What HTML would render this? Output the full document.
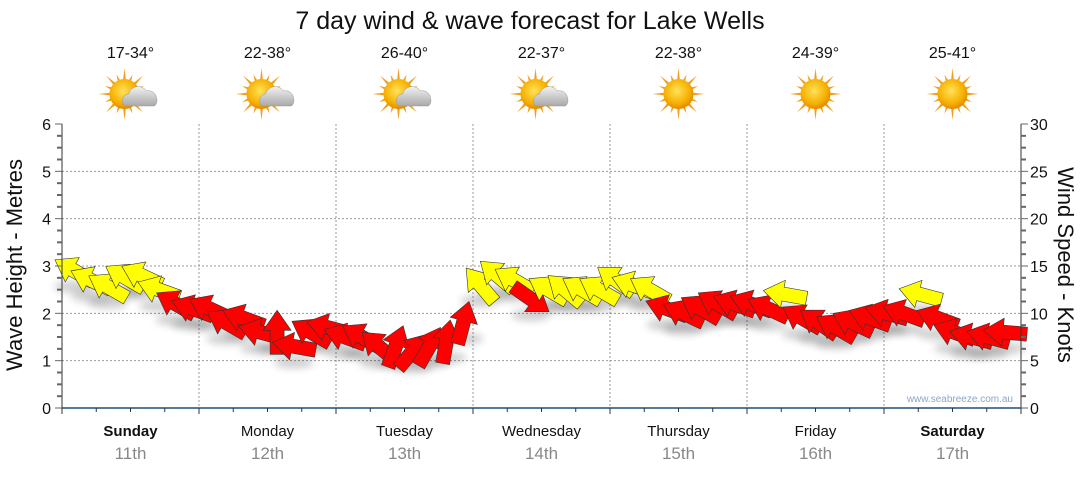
<!DOCTYPE html>
<html><head><meta charset="utf-8"><style>
body{margin:0;background:#fff;width:1080px;height:475px;overflow:hidden;font-family:"Liberation Sans",sans-serif}
</style></head><body>
<svg id="c" width="1080" height="475" viewBox="0 0 1080 475" xmlns="http://www.w3.org/2000/svg">
<defs>
<filter id="sh" x="-50%" y="-50%" width="200%" height="200%"><feGaussianBlur stdDeviation="4"/></filter>
<radialGradient id="sun" cx="0.45" cy="0.4" r="0.6"><stop offset="0" stop-color="#ffe25a"/><stop offset="0.7" stop-color="#f7b000"/><stop offset="1" stop-color="#e08a00"/></radialGradient>
<linearGradient id="cloud" x1="0" y1="0" x2="0" y2="1"><stop offset="0" stop-color="#f2f2f2"/><stop offset="1" stop-color="#a8a8a8"/></linearGradient>
</defs>
<text x="530" y="29" text-anchor="middle" font-size="25" fill="#111">7 day wind &amp; wave forecast for Lake Wells</text>
<g id="grid"></g><g id="marks"></g><g id="axes"></g><g id="head"></g>
<text x="1013" y="402" text-anchor="end" font-size="10" fill="#8aa6c6">www.seabreeze.com.au</text>
<text transform="translate(22,265) rotate(-90)" text-anchor="middle" font-size="22" fill="#111">Wave Height - Metres</text>
<text transform="translate(1058,265) rotate(90)" text-anchor="middle" font-size="22" fill="#111">Wind Speed - Knots</text>
</svg>
<script>
const days=["Sunday","Monday","Tuesday","Wednesday","Thursday","Friday","Saturday"];
const dates=["11th","12th","13th","14th","15th","16th","17th"];
const temps=["17-34°","22-38°","26-40°","22-37°","22-38°","24-39°","25-41°"];
const cloudy=[1,1,1,1,0,0,0];
const waveTicks=[0,1,2,3,4,5,6];
const windTicks=[0,5,10,15,20,25,30];
const windSpeed=[14.5,13.5,12.8,13.8,14,12.5,11,10.5, 10.5,9,9.5,8,8,6.5,8,8.5, 7.5,7.5,6.5,6.5,6,6.5,7,9, 13,14,13.5,11.5,12.5,12.5,12.5,12.5, 13.5,13,12.5,10.5,10,10.5,11,11, 11,10.5,12,9.5,9,8.5,9,9.5, 10,10,12,9.5,8,7.5,7.5,8];
const windDir=[150,155,150,150,155,160,150,160, 155,150,160,165,90,170,150,165, 160,150,140,70,50,60,80,75, 130,140,150,325,150,140,150,150, 145,160,150,160,155,150,150,160, 160,155,170,150,145,150,155,160, 165,160,165,160,160,165,165,175];
const X0=62,X1=1021,Y0=408,Y1=124;
const NS="http://www.w3.org/2000/svg";
const xs=i=>X0+12+(X1-X0-28)*i/55;
const yWave=v=>Y0-(Y0-Y1)*v/6;
const yWind=v=>Y0-(Y0-Y1)*v/30;
const dayX=d=>X0+(X1-X0)*(d+0.5)/7;
function mk(tag,attrs,parent,txt){const e=document.createElementNS(NS,tag);for(const k in attrs)e.setAttribute(k,attrs[k]);if(txt!==undefined)e.textContent=txt;parent.appendChild(e);return e;}
const grid=document.getElementById('grid'),axes=document.getElementById('axes'),marks=document.getElementById('marks'),head=document.getElementById('head');
waveTicks.forEach(v=>{if(v>0&&v<6){const l=mk('line',{x1:X0,x2:X1,y1:yWave(v),y2:yWave(v),stroke:'#999','stroke-dasharray':'2,2'},grid);

}});
for(let d=1;d<7;d++){const x=X0+(X1-X0)*d/7;const l=mk('line',{x1:x,x2:x,y1:Y1,y2:Y0,stroke:'#999','stroke-dasharray':'2,2'},grid);

}
mk('line',{x1:X0,x2:X0,y1:Y1,y2:Y0+6,stroke:'#333'},axes);
mk('line',{x1:X1,x2:X1,y1:Y1,y2:Y0,stroke:'#333'},axes);
mk('line',{x1:X0,x2:X1,y1:Y0,y2:Y0,stroke:'#1f4e79','stroke-width':1.5},axes);
for(let k=0;k<=24;k++){const y=Y0-(Y0-Y1)*k/24;mk('line',{x1:X0-(k%4?5:7),x2:X0,y1:y,y2:y,stroke:'#666','stroke-width':k%4?2:1},axes);mk('line',{x1:X1,x2:X1+(k%4?5:7),y1:y,y2:y,stroke:'#666','stroke-width':k%4?2:1},axes);}
for(let k=0;k<=28;k++){const x=X0+(X1-X0)*k/28;mk('line',{x1:x,x2:x,y1:Y0,y2:Y0+(k%4?4:6),stroke:'#333'},axes);}
waveTicks.forEach(v=>{const t=mk('text',{x:X0-11,y:yWave(v)+6,'text-anchor':'end','font-size':16,fill:'#111'},axes,v);

});
windTicks.forEach(v=>{const t=mk('text',{x:X1+9,y:yWind(v)+6,'font-size':16,fill:'#111'},axes,v);

});
days.forEach((d,i)=>{const bold=(i==0||i==6);const t=mk('text',{x:dayX(i),y:436,'text-anchor':'middle','font-size':15,'font-weight':bold?'bold':'normal',fill:'#111'},axes,d);


const t2=mk('text',{x:dayX(i),y:459,'text-anchor':'middle','font-size':17,fill:'#888'},axes,dates[i]);

});
temps.forEach((tt,i)=>{const cx=dayX(i);const t=mk('text',{x:cx,y:58,'text-anchor':'middle','font-size':16,fill:'#111'},head,tt);


const g=mk('g',{},head);


const sx=cloudy[i]?cx-6:cx,sy=94;
for(let a=0;a<16;a++){const r=a*Math.PI/8;const l=a%2?21:26;mk('polygon',{points:`${sx+Math.cos(r-0.12)*13},${sy+Math.sin(r-0.12)*13} ${sx+Math.cos(r)*l},${sy+Math.sin(r)*l} ${sx+Math.cos(r+0.12)*13},${sy+Math.sin(r+0.12)*13}`,fill:'#f0a020'},g);}
mk('circle',{cx:sx,cy:sy,r:15,fill:'url(#sun)'},g);
if(cloudy[i]){mk('path',{d:`M${cx-6} ${sy+12} a7 7 0 0 1 4 -12 a10 10 0 0 1 18 -3 a8 8 0 0 1 10 7 a7 7 0 0 1 -2 8 z`,fill:'url(#cloud)',stroke:'#999','stroke-width':0.5},g);}
});
const ARROW="-22,-7 2,-7 2,-14 22,0 2,14 2,7 -22,7";
windSpeed.forEach((v,i)=>{const x=xs(i),y=yWind(v);mk('ellipse',{cx:x,cy:y+16,rx:20,ry:6,fill:'#000',opacity:0.18,filter:'url(#sh)'},marks);});
windSpeed.forEach((v,i)=>{const x=xs(i),y=yWind(v);
const p=mk('polygon',{points:ARROW,transform:`translate(${x},${y}) rotate(${-windDir[i]})`,fill:v>=12?'#ffff00':'#ff0000',stroke:'#333','stroke-width':0.6},marks);

});
</script>
</body></html>
